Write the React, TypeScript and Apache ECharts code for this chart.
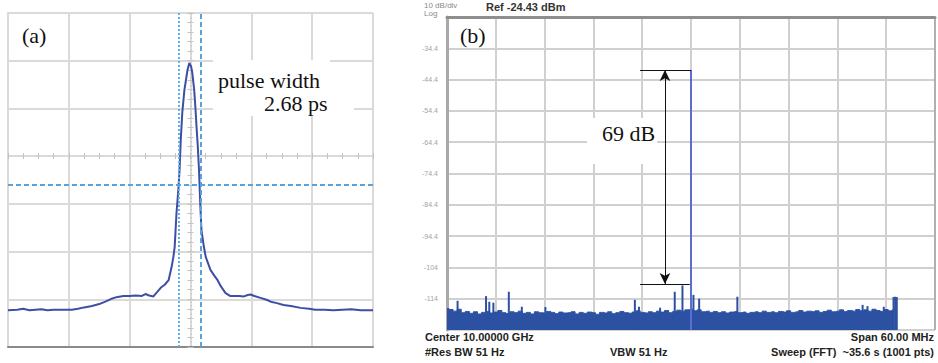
import React, { useEffect, useRef } from "react";
import * as echarts from "echarts";

// ---------- Panel (a): autocorrelation trace (x: screen divisions, y: divisions above bottom) ----------
const acDelay = [
  -3.0, -2.85, -2.75, -2.65, -2.55, -2.45, -2.35, -2.25, -2.1, -1.95, -1.85, -1.75, -1.62, -1.5, -1.4,
  -1.3, -1.2, -1.1, -1.0, -0.9, -0.8, -0.74, -0.68, -0.61, -0.55, -0.49, -0.42, -0.36, -0.31, -0.28,
  -0.26, -0.23, -0.2, -0.18, -0.16, -0.135, -0.1, -0.05, -0.02, 0.01, 0.03, 0.06, 0.08, 0.1, 0.12,
  0.14, 0.16, 0.18, 0.22, 0.25, 0.33, 0.4, 0.445, 0.5, 0.577, 0.65, 0.72, 0.8, 0.88, 0.94,
  0.99, 1.05, 1.15, 1.25, 1.32, 1.42, 1.53, 1.65, 1.81, 1.95, 2.05, 2.2, 2.35, 2.5, 2.64, 2.8, 3.0,
];
const acIntensity = [
  0.77, 0.78, 0.8, 0.77, 0.78, 0.79, 0.77, 0.78, 0.78, 0.78, 0.8, 0.83, 0.86, 0.9, 0.95,
  1.01, 1.05, 1.07, 1.07, 1.08, 1.07, 1.11, 1.08, 1.06, 1.15, 1.24, 1.31, 1.4, 1.68, 1.9,
  2.1, 2.81, 3.29, 3.71, 4.34, 4.91, 5.39, 5.8, 5.95, 5.88, 5.74, 5.4, 5.03, 4.6, 4.2,
  3.71, 3.02, 2.45, 2.1, 1.89, 1.61, 1.48, 1.4, 1.27, 1.13, 1.07, 1.07, 1.07, 1.06, 1.09,
  1.1, 1.07, 1.03, 0.99, 0.95, 0.92, 0.88, 0.86, 0.82, 0.8, 0.78, 0.78, 0.77, 0.78, 0.79, 0.77, 0.77,
];
const cursorLeft = -0.19;
const cursorRight = 0.165;
const cursorLevel = 3.4;

// ---------- Panel (b): RF spectrum ----------
const REF_LEVEL = -24.43; // dBm
const DB_PER_DIV = 10;
const BOTTOM_LEVEL = REF_LEVEL - 10 * DB_PER_DIV; // -124.43
const CENTER_GHZ = 10.0;
const SPAN_MHZ = 60;
const FREQ_START = -30; // MHz offset
const FREQ_STEP = 0.5;
const noiseFloor = [
  -117.6, -117.9, -118.4, -117.8, -118.9, -118.5, -119.1, -118.6, -119.3, -118.8,
  -118.5, -119.0, -118.7, -118.2, -118.9, -119.2, -118.6, -118.9, -118.4, -119.1,
  -118.8, -119.3, -118.6, -118.9, -119.0, -118.5, -118.8, -119.2, -118.7, -119.0,
  -118.9, -118.6, -119.3, -118.8, -119.1, -118.7, -118.9, -119.4, -118.8, -119.0,
  -118.6, -119.2, -118.9, -118.5, -118.9, -119.1, -118.7, -118.3, -118.8, -119.0,
  -118.6, -118.9, -118.4, -118.7, -118.2, -118.9, -118.5, -118.1, -118.4, -118.0,
  -117.8,
  -118.3, -118.0, -118.6, -118.4, -118.8, -118.5, -118.9, -118.6, -119.0, -118.7,
  -118.5, -118.9, -118.7, -119.1, -118.8, -118.6, -118.9, -118.4, -118.8, -118.6,
  -118.9, -118.5, -118.7, -118.3, -118.8, -118.6, -118.2, -118.7, -118.4, -118.6,
  -118.3, -118.8, -118.5, -118.1, -118.6, -118.4, -118.0, -118.5, -118.2, -118.4,
  -117.9, -118.3, -118.0, -118.4, -117.8, -118.2, -118.5, -117.9, -118.3, -118.0,
];
const spikeFreq = [-28.7, -25.2, -24.8, -24.3, -22.4, -20.8, -17.9, -6.9, -6.4, -3.8, -2.0, -1.05, 0.3, 1.0, 5.7, 21.1, 21.7, 23.7, 24.9, 25.1, 25.3];
const spikeLevel = [-115.1, -113.6, -115.4, -115.7, -112.2, -117.0, -117.1, -114.8, -117.0, -117.3, -112.2, -110.2, -113.2, -114.4, -113.8, -116.4, -116.8, -117.0, -113.9, -113.8, -113.9];
const carrierFreq = 0;
const carrierLevel = -41.4;
const markTopLevel = -41.4;
const markBottomLevel = -109.7;
const markLineStart = -6.27;
const markLineEndLow = -0.15;
const arrowFreq = -3.2;

const gA = "#dcd9d6";
const gB = "#d0d0d0";
const traceBlue = "#2c51a2";

function fmtDb(v: number): string {
  if (v <= 0.001 || v >= 99.999) return "";
  const db = v + BOTTOM_LEVEL;
  return Math.abs(db) >= 100 ? String(Math.round(db)) : db.toFixed(1);
}

export default function App() {
  const ref = useRef<HTMLDivElement>(null);
  useEffect(() => {
    if (!ref.current) return;
    const chart = echarts.init(ref.current, undefined, { renderer: "svg" });
    const serif = "Liberation Serif";
    const sans = "Liberation Sans";
    const noTicks = { show: false };
    const noLabels = { show: false };
    const crossTick = { color: "#c2c2c2", width: 1 };
    const option: any = {
      animation: false,
      backgroundColor: "#ffffff",
      grid: [
        { left: 8, top: 13, width: 365, height: 334 },
        { left: 447, top: 17, width: 488, height: 313 },
      ],
      xAxis: [
        {
          gridIndex: 0, type: "value", min: -3, max: 3, interval: 1,
          axisLine: { show: true, onZero: false, lineStyle: { color: "#8a8a8a", width: 2 } },
          axisTick: noTicks, axisLabel: noLabels,
          splitLine: { show: true, lineStyle: { color: [gA, gA, gA, "rgba(0,0,0,0)", gA, gA, gA], width: 2 } },
        },
        {
          gridIndex: 0, type: "value", min: -3, max: 3, interval: 1,
          axisLine: { show: false, onZero: true, onZeroAxisIndex: 1 },
          axisTick: { show: true, inside: true, length: 3, lineStyle: crossTick },
          minorTick: { show: true, splitNumber: 4, length: 3, lineStyle: crossTick },
          axisLabel: noLabels, splitLine: { show: false },
        },
        {
          gridIndex: 0, type: "value", min: -3, max: 3, interval: 1,
          axisLine: { show: false, onZero: true, onZeroAxisIndex: 1 },
          axisTick: { show: true, inside: false, length: 3, lineStyle: crossTick },
          minorTick: { show: true, splitNumber: 4, length: 3, lineStyle: crossTick },
          axisLabel: noLabels, splitLine: { show: false },
        },
        {
          gridIndex: 1, type: "value", min: FREQ_START, max: FREQ_START + SPAN_MHZ, interval: SPAN_MHZ / 10,
          axisLine: { show: false }, axisTick: noTicks, axisLabel: noLabels,
          splitLine: { show: true, lineStyle: { color: [gB, gB, gB, gB, gB, gB, gB, gB, gB, gB, "#b0b0b0"], width: 2 } },
        },
        {
          gridIndex: 1, type: "value", position: "top", min: FREQ_START, max: FREQ_START + SPAN_MHZ,
          axisLine: { show: true, onZero: false, lineStyle: { color: "#8e8e8e", width: 3 } },
          axisTick: noTicks, axisLabel: noLabels, splitLine: { show: false },
        },
      ],
      yAxis: [
        {
          gridIndex: 0, type: "value", min: 0, max: 7, interval: 1,
          axisLine: { show: true, onZero: false, lineStyle: { color: gA, width: 2 } },
          axisTick: noTicks, axisLabel: noLabels,
          splitLine: { show: true, lineStyle: { color: gA, width: 2 } },
        },
        {
          gridIndex: 0, type: "value", min: -4, max: 3, interval: 1,
          axisLine: { show: true, onZero: true, onZeroAxisIndex: 0, lineStyle: { color: "#d2d2d2", width: 2, type: [2, 2] } },
          axisTick: { show: true, inside: true, length: 3, lineStyle: crossTick },
          minorTick: { show: true, splitNumber: 5, length: 3, lineStyle: crossTick },
          axisLabel: noLabels, splitLine: { show: false },
        },
        {
          gridIndex: 0, type: "value", min: -4, max: 3, interval: 1,
          axisLine: { show: false, onZero: true, onZeroAxisIndex: 0 },
          axisTick: { show: true, inside: false, length: 3, lineStyle: crossTick },
          minorTick: { show: true, splitNumber: 5, length: 3, lineStyle: crossTick },
          axisLabel: noLabels, splitLine: { show: false },
        },
        {
          gridIndex: 1, type: "value", min: 0, max: 10 * DB_PER_DIV, interval: DB_PER_DIV,
          axisLine: { show: true, onZero: false, lineStyle: { color: "#a9a9a9", width: 3 } },
          axisTick: noTicks,
          axisLabel: { show: true, formatter: fmtDb, color: "#a3a3a3", fontSize: 7, fontFamily: sans, margin: 9 },
          splitLine: { show: true, lineStyle: { color: [gB, gB, gB, gB, gB, gB, gB, gB, gB, gB, "#8e8e8e"], width: 2 } },
        },
      ],
      series: [
        {
          type: "line", name: "autocorrelation", xAxisIndex: 0, yAxisIndex: 0,
          data: acDelay.map((x, i) => [x, acIntensity[i]]),
          symbol: "none", z: 3,
          lineStyle: { color: "#3e4ea6", width: 2 },
          markLine: {
            silent: true, symbol: "none", label: { show: false },
            lineStyle: { color: "#56a3e0", width: 2 },
            data: [
              { xAxis: cursorLeft, lineStyle: { type: [2, 2], color: "#62b0e8" } },
              { xAxis: cursorRight, lineStyle: { type: [5, 3] } },
              { yAxis: cursorLevel, lineStyle: { type: [5, 3] } },
            ],
          },
        },
        {
          type: "line", name: "spectrum", xAxisIndex: 3, yAxisIndex: 3, step: "middle",
          data: noiseFloor.map((v, i) => [FREQ_START + i * FREQ_STEP, v - BOTTOM_LEVEL]),
          symbol: "none", z: 2,
          lineStyle: { color: traceBlue, width: 1 },
          areaStyle: { color: traceBlue, opacity: 1 },
          markLine: {
            silent: true, symbol: "none", label: { show: false },
            lineStyle: { color: "#111111", width: 1, type: "solid" },
            data: [
              [{ coord: [markLineStart, markTopLevel - BOTTOM_LEVEL] }, { coord: [carrierFreq, markTopLevel - BOTTOM_LEVEL] }],
              [{ coord: [markLineStart, markBottomLevel - BOTTOM_LEVEL] }, { coord: [markLineEndLow, markBottomLevel - BOTTOM_LEVEL] }],
              [
                { coord: [arrowFreq, markBottomLevel - BOTTOM_LEVEL], symbol: "arrow", symbolSize: [8, 11] },
                { coord: [arrowFreq, markTopLevel - BOTTOM_LEVEL], symbol: "arrow", symbolSize: [8, 11] },
              ],
            ],
          },
        },
        {
          type: "bar", name: "spurs", xAxisIndex: 3, yAxisIndex: 3, barWidth: 2, z: 3,
          itemStyle: { color: traceBlue },
          data: [
            ...spikeFreq.map((f, i) => [f, spikeLevel[i] - BOTTOM_LEVEL]),
            { value: [carrierFreq, carrierLevel - BOTTOM_LEVEL], itemStyle: { color: "#5a6ed0" } },
          ],
        },
      ],
      graphic: [
        { type: "text", x: 22, y: 35, z: 51, style: { text: "(a)", fontFamily: serif, fontSize: 22, fill: "#111", verticalAlign: "middle" } },
        { type: "rect", z: 50, shape: { x: 213, y: 60, width: 117, height: 33 }, style: { fill: "#ffffff" } },
        { type: "rect", z: 50, shape: { x: 213, y: 92, width: 141, height: 24 }, style: { fill: "#ffffff" } },
        { type: "text", x: 218, y: 80, z: 51, style: { text: "pulse width", fontFamily: serif, fontSize: 22, fill: "#111", verticalAlign: "middle" } },
        { type: "text", x: 264, y: 103, z: 51, style: { text: "2.68 ps", fontFamily: serif, fontSize: 22, fill: "#111", verticalAlign: "middle" } },
        { type: "text", x: 460, y: 35, z: 51, style: { text: "(b)", fontFamily: serif, fontSize: 22, fill: "#111", verticalAlign: "middle" } },
        { type: "rect", z: 50, shape: { x: 587, y: 118, width: 70, height: 46 }, style: { fill: "#ffffff" } },
        { type: "text", x: 602, y: 133, z: 51, style: { text: "69 dB", fontFamily: serif, fontSize: 22, fill: "#111", verticalAlign: "middle" } },
        { type: "text", x: 424, y: 5, z: 51, style: { text: `${DB_PER_DIV} dB/div`, fontFamily: sans, fontSize: 8, fill: "#8a8a8a", verticalAlign: "middle" } },
        { type: "text", x: 424, y: 13, z: 51, style: { text: "Log", fontFamily: sans, fontSize: 8, fill: "#8a8a8a", verticalAlign: "middle" } },
        { type: "text", x: 486, y: 7, z: 51, style: { text: `Ref ${REF_LEVEL.toFixed(2)} dBm`, fontFamily: sans, fontSize: 11, fontWeight: "bold", fill: "#333", verticalAlign: "middle" } },
        { type: "text", x: 425, y: 337, z: 51, style: { text: `Center ${CENTER_GHZ.toFixed(5)} GHz`, fontFamily: sans, fontSize: 11, fontWeight: "bold", fill: "#222", verticalAlign: "middle" } },
        { type: "text", x: 425, y: 352, z: 51, style: { text: "#Res BW 51 Hz", fontFamily: sans, fontSize: 11, fontWeight: "bold", fill: "#222", verticalAlign: "middle" } },
        { type: "text", x: 610, y: 352, z: 51, style: { text: "VBW 51 Hz", fontFamily: sans, fontSize: 11, fontWeight: "bold", fill: "#222", verticalAlign: "middle" } },
        { type: "text", x: 934, y: 337, z: 51, style: { text: `Span ${SPAN_MHZ.toFixed(2)} MHz`, fontFamily: sans, fontSize: 11, fontWeight: "bold", fill: "#222", align: "right", verticalAlign: "middle" } },
        { type: "text", x: 934, y: 352, z: 51, style: { text: "Sweep (FFT)  ~35.6 s (1001 pts)", fontFamily: sans, fontSize: 11, fontWeight: "bold", fill: "#222", align: "right", verticalAlign: "middle" } },
      ],
    };
    chart.setOption(option);
    return () => chart.dispose();
  }, []);
  return <div ref={ref} style={{ position: "fixed", left: 0, top: 0, width: 938, height: 363 }} />;
}
